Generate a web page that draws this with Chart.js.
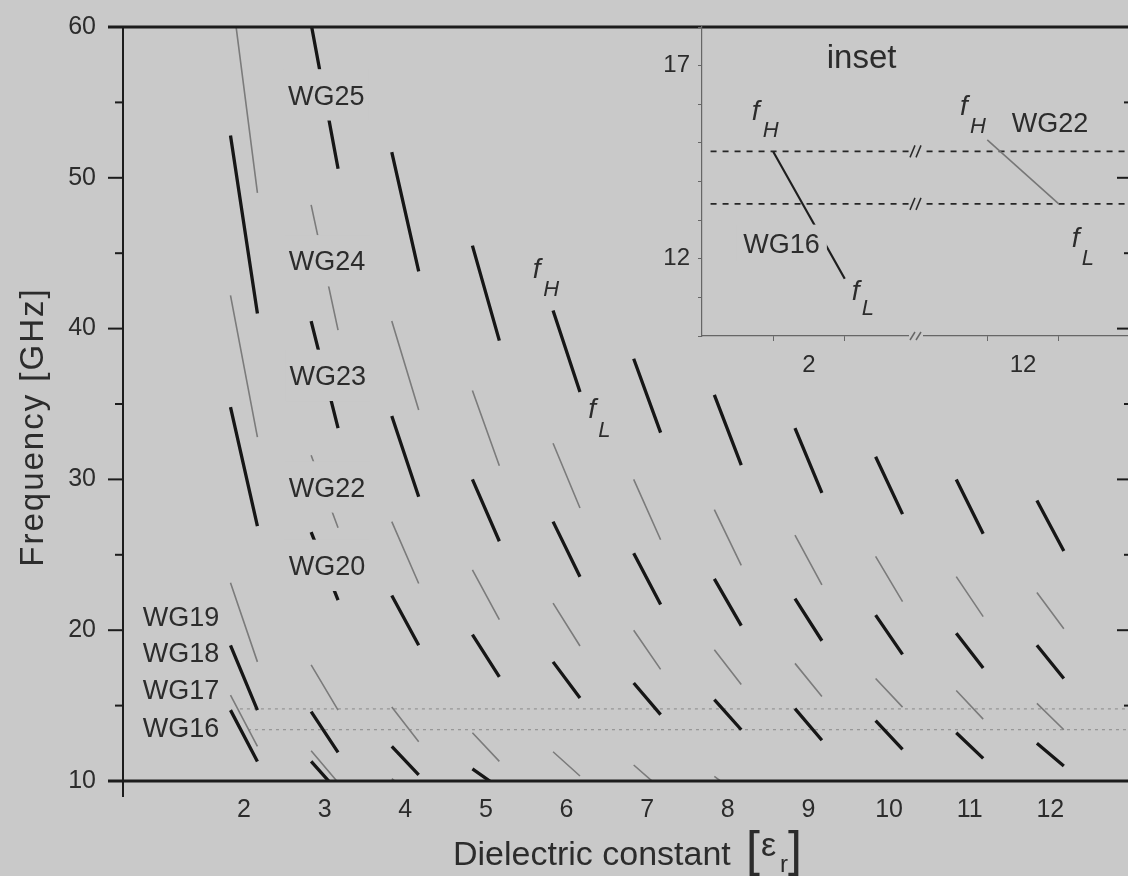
<!DOCTYPE html>
<html>
<head>
<meta charset="utf-8">
<script src="https://cdn.jsdelivr.net/npm/chart.js@4.4.1/dist/chart.umd.min.js"></script>
<style>
  html, body { margin: 0; padding: 0; background: #c9c9c9; overflow: hidden; }
  #wrap { position: relative; width: 1128px; height: 876px; overflow: hidden; }
  #main { position: absolute; left: 0; top: 0; }
  #inset { position: absolute; left: 600px; top: 0; }
</style>
</head>
<body>
<div id="wrap">
  <canvas id="main" width="1140" height="876"></canvas>
  <canvas id="inset" width="540" height="400"></canvas>
</div>
<script>
// x tick labels (dielectric constant)
const epsTicks = [2, 3, 4, 5, 6, 7, 8, 9, 10, 11, 12];

// thick black bands: dielectric constant, f_H and f_L [GHz]
const blackEps  = [2, 2, 2, 2,  3, 3, 3, 3, 3,  4, 4, 4, 4,  5, 5, 5, 5,  6, 6, 6,  7, 7, 7,  8, 8, 8,  9, 9, 9,  10, 10, 10,  11, 11, 11,  12, 12, 12];
const blackHigh = [52.8, 34.8, 19.0, 14.7,  60.2, 40.5, 26.5, 14.6, 11.3,  51.7, 34.2, 22.3, 12.3,  45.5, 30.0, 19.7, 10.8,  41.2, 27.2, 17.9,  38.0, 25.1, 16.5,  35.6, 23.4, 15.4,  33.4, 22.1, 14.8,  31.5, 21.0, 14.0,  30.0, 19.8, 13.2,  28.6, 19.0, 12.5];
const blackLow  = [41.0, 26.9, 14.7, 11.3,  50.6, 33.4, 22.0, 11.9, 9.3,  43.8, 28.85, 19.0, 10.4,  39.2, 25.9, 16.9, 9.55,  35.8, 23.55, 15.5,  33.1, 21.7, 14.4,  30.95, 20.3, 13.4,  29.1, 19.3, 12.7,  27.7, 18.4, 12.1,  26.4, 17.5, 11.5,  25.25, 16.8, 11.0];

// thin grey bands
const grayEps  = [2, 2, 2, 2,  3, 3, 3, 3,  4, 4, 4, 4,  5, 5, 5,  6, 6, 6,  7, 7, 7,  8, 8, 8,  9, 9,  10, 10,  11, 11,  12, 12];
const grayHigh = [62.9, 42.2, 23.15, 15.7,  48.2, 31.6, 17.7, 12.0,  40.5, 27.2, 14.9, 10.15,  35.9, 24.0, 13.2,  32.4, 21.8, 11.94,  30.0, 20.0, 11.06,  28.0, 18.7, 10.3,  26.3, 17.8,  24.9, 16.8,  23.55, 16.0,  22.5, 15.15];
const grayLow  = [49.0, 32.8, 17.9, 12.3,  39.9, 26.8, 14.7, 9.9,  34.6, 23.1, 12.6, 8.8,  30.9, 20.7, 11.3,  28.1, 18.95, 10.33,  26.0, 17.4, 9.5,  24.3, 16.4, 9.0,  23.0, 15.6,  21.9, 14.9,  20.9, 14.1,  20.1, 13.4];

// dotted target band
const bandFreq = [14.78, 13.4];
const bandStartEps = [1.95, 2.05];

// inset
const insetBlackEps = [2],  insetBlackHigh = [14.77], insetBlackLow = [11.48];
const insetGrayEps  = [12], insetGrayHigh  = [15.08], insetGrayLow  = [13.42];
const insetBand = [14.78, 13.42];
const insetTickEps = [2, 12];
const insetYLabels = [12, 17];

const HALF = 0.167;        // half width of a band mark along x
const XMIN = 0.5, XMAX = 13;
const BG = '#c9c9c9';
const TXT = '#2c2c2c';
const FONT = '"Liberation Sans", Arial, Helvetica, sans-serif';

function segData(eps, hi, lo, map) {
  const pts = [];
  eps.forEach((e, i) => {
    const c = map ? map(e) : e;
    pts.push({ x: c - HALF, y: hi[i] }, { x: c + HALF, y: lo[i] }, { x: c + HALF, y: null });
  });
  return pts;
}

function line(ctx, x1, y1, x2, y2) {
  ctx.beginPath(); ctx.moveTo(x1, y1); ctx.lineTo(x2, y2); ctx.stroke();
}

function boxLabel(ctx, text, px, py, size, padX, padY) {
  ctx.font = size + 'px ' + FONT;
  const w = ctx.measureText(text).width;
  const capH = size * 0.716;
  if (padY !== null) {
    ctx.fillStyle = BG;
    ctx.fillRect(px - w / 2 - padX, py - capH / 2 - padY, w + 2 * padX, capH + 2 * padY);
  }
  ctx.fillStyle = TXT;
  ctx.textAlign = 'center';
  ctx.textBaseline = 'alphabetic';
  ctx.fillText(text, px, py + capH / 2);
}

function fLabel(ctx, sub, px, py, dx, dy) {
  ctx.fillStyle = TXT;
  ctx.textAlign = 'left';
  ctx.textBaseline = 'alphabetic';
  ctx.font = 'italic 28px ' + FONT;
  ctx.fillText('f', px, py);
  ctx.font = 'italic 22px ' + FONT;
  ctx.fillText(sub, px + dx, py + dy);
}

// labels placed in data coordinates
const columnLabels = [
  { text: 'WG25', eps: 3.02, f: 55.5 },
  { text: 'WG24', eps: 3.03, f: 44.5 },
  { text: 'WG23', eps: 3.04, f: 36.9 },
  { text: 'WG22', eps: 3.03, f: 29.5 },
  { text: 'WG20', eps: 3.03, f: 24.3 }
];
const sideLabels = [
  { text: 'WG19', eps: 1.22, f: 20.95 },
  { text: 'WG18', eps: 1.22, f: 18.5 },
  { text: 'WG17', eps: 1.22, f: 16.05 },
  { text: 'WG16', eps: 1.22, f: 13.55 }
];

const mainDecor = {
  id: 'mainDecor',
  afterDatasetsDraw(chart) {
    const { ctx, chartArea: a, scales: { x, y } } = chart;
    ctx.save();

    columnLabels.forEach(l => boxLabel(ctx, l.text, x.getPixelForValue(l.eps), y.getPixelForValue(l.f), 27, 4, 16));
    sideLabels.forEach(l => boxLabel(ctx, l.text, x.getPixelForValue(l.eps), y.getPixelForValue(l.f), 27, 0, null));

    fLabel(ctx, 'H', x.getPixelForValue(5.58), y.getPixelForValue(43.36), 10.5, 18.5);
    fLabel(ctx, 'L', x.getPixelForValue(6.27), y.getPixelForValue(34.07), 10, 18.5);

    // frame
    ctx.strokeStyle = '#1c1c1c';
    ctx.lineWidth = 3;
    line(ctx, 108, a.top, a.right, a.top);
    line(ctx, 108, a.bottom, a.right, a.bottom);
    ctx.lineWidth = 2;
    line(ctx, a.left, a.top, a.left, a.bottom + 16);
    y.ticks.forEach(t => {
      const py = y.getPixelForValue(t.value);
      const major = t.value % 10 === 0;
      line(ctx, a.left - (major ? 15 : 8), py, a.left, py);
      line(ctx, a.right, py, a.right - (major ? 14 : 7), py);
    });

    // axis titles
    ctx.fillStyle = TXT;
    ctx.textBaseline = 'alphabetic';
    ctx.save();
    ctx.translate(43, 427);
    ctx.rotate(-Math.PI / 2);
    ctx.font = '33px ' + FONT;
    ctx.textAlign = 'center';
    if ('letterSpacing' in ctx) ctx.letterSpacing = '2px';
    ctx.fillText('Frequency [GHz]', 0, 0);
    ctx.restore();

    ctx.textAlign = 'left';
    ctx.font = '34px ' + FONT;
    ctx.fillText('Dielectric constant', 453, 865);
    ctx.font = '50px ' + FONT;
    ctx.fillText('[', 746, 866);
    ctx.fillText(']', 788, 866);
    ctx.font = '34px ' + FONT;
    ctx.fillText('\u03b5', 761, 856);
    ctx.font = '24px ' + FONT;
    ctx.fillText('r', 780, 872);
    ctx.restore();
  }
};

new Chart(document.getElementById('main'), {
  type: 'scatter',
  data: {
    datasets: [
      { data: segData(blackEps, blackHigh, blackLow), showLine: true, borderColor: '#161616', borderWidth: 3.3, pointRadius: 0, borderCapStyle: 'butt' },
      { data: segData(grayEps, grayHigh, grayLow), showLine: true, borderColor: '#7b7b7b', borderWidth: 1.6, pointRadius: 0 },
      { data: bandFreq.flatMap((f, i) => [{ x: bandStartEps[i], y: f }, { x: XMAX, y: f }, { x: XMAX, y: null }]),
        showLine: true, borderColor: '#8a8a8a', borderWidth: 1, borderDash: [3, 4], pointRadius: 0 }
    ]
  },
  options: {
    responsive: false,
    animation: false,
    devicePixelRatio: 1,
    layout: { padding: { top: 27, right: 9, left: 0, bottom: 0 } },
    plugins: { legend: { display: false }, tooltip: { enabled: false } },
    scales: {
      x: {
        type: 'linear', min: XMIN, max: XMAX,
        afterBuildTicks: s => { s.ticks = epsTicks.map(v => ({ value: v })); },
        afterFit: s => { s.height = 95; },
        grid: { display: false, drawTicks: false },
        border: { display: false },
        ticks: { font: { family: FONT, size: 25 }, color: TXT, padding: 14, maxRotation: 0, autoSkip: false }
      },
      y: {
        type: 'linear', min: 10, max: 60,
        afterFit: s => { s.width = 123; },
        grid: { display: false, drawTicks: true, tickLength: 15 },
        border: { display: false },
        ticks: { stepSize: 5, autoSkip: false, callback: v => (v % 10 === 0 ? v : ''), font: { family: FONT, size: 25 }, color: TXT, padding: 12 }
      }
    }
  },
  plugins: [mainDecor]
});

// ---- inset: broken x axis (2 | 12) ----
const uOf = e => (e > 2.5 ? e - 9 : e);

const insetDecor = {
  id: 'insetDecor',
  afterDatasetsDraw(chart) {
    const { ctx, chartArea: a, scales: { x, y } } = chart;
    ctx.save();
    ctx.fillStyle = TXT;
    ctx.font = '33px ' + FONT;
    ctx.textAlign = 'center';
    ctx.fillText('inset', x.getPixelForValue(2.246), y.getPixelForValue(16.95));

    boxLabel(ctx, 'WG16', x.getPixelForValue(1.872), y.getPixelForValue(12.4), 27, 7, 9);
    boxLabel(ctx, 'WG22', x.getPixelForValue(3.126), y.getPixelForValue(15.53), 27, 0, null);

    fLabel(ctx, 'H', x.getPixelForValue(1.732), y.getPixelForValue(15.58), 11, 17);
    fLabel(ctx, 'L', x.getPixelForValue(2.2), y.getPixelForValue(10.92), 10, 15);
    fLabel(ctx, 'H', x.getPixelForValue(2.706), y.getPixelForValue(15.71), 10, 18);
    fLabel(ctx, 'L', x.getPixelForValue(3.228), y.getPixelForValue(12.3), 10, 18);

    // axis break marks
    const bx = x.getPixelForValue(2.5);
    const marks = insetBand.map(f => y.getPixelForValue(f)).concat([a.bottom]);
    marks.forEach((py, i) => {
      ctx.fillStyle = BG;
      ctx.fillRect(bx - 7, py - 3, 14, 6);
      ctx.strokeStyle = i < 2 ? '#2a2a2a' : '#666';
      ctx.lineWidth = 1.5;
      const h = i < 2 ? 6 : 4;
      line(ctx, bx - 6, py + h, bx - 1, py - h);
      line(ctx, bx, py + h, bx + 5, py - h);
    });
    ctx.restore();
  }
};

new Chart(document.getElementById('inset'), {
  type: 'scatter',
  data: {
    datasets: [
      { data: segData(insetBlackEps, insetBlackHigh, insetBlackLow, uOf), showLine: true, borderColor: '#1e1e1e', borderWidth: 2.2, pointRadius: 0 },
      { data: segData(insetGrayEps, insetGrayHigh, insetGrayLow, uOf), showLine: true, borderColor: '#777', borderWidth: 1.6, pointRadius: 0 },
      { data: insetBand.flatMap(f => [{ x: 1.54, y: f }, { x: 3.5, y: f }, { x: 3.5, y: null }]),
        showLine: true, borderColor: '#262626', borderWidth: 1.8, borderDash: [6, 6], pointRadius: 0 }
    ]
  },
  options: {
    responsive: false,
    animation: false,
    devicePixelRatio: 1,
    layout: { padding: { top: 27, right: 10, left: 0, bottom: 0 } },
    plugins: { legend: { display: false }, tooltip: { enabled: false } },
    scales: {
      x: {
        type: 'linear', min: 1.5, max: 3.5,
        afterBuildTicks: s => {
          s.ticks = insetTickEps.flatMap(e => [uOf(e) - HALF, uOf(e), uOf(e) + HALF]).map(v => ({ value: v }));
        },
        afterFit: s => { s.height = 64; },
        grid: { display: true, drawOnChartArea: false, tickLength: 5,
                tickColor: c => (insetTickEps.map(uOf).includes(c.tick && c.tick.value) ? 'transparent' : '#666') },
        border: { display: true, color: '#666', width: 1.2 },
        ticks: {
          autoSkip: false, maxRotation: 0, padding: 10, color: TXT, font: { family: FONT, size: 24 },
          callback: v => { const i = insetTickEps.map(uOf).indexOf(v); return i >= 0 ? String(insetTickEps[i]) : ''; }
        }
      },
      y: {
        type: 'linear', min: 10, max: 18,
        afterFit: s => { s.width = 102; },
        grid: { display: true, drawOnChartArea: false, tickLength: 4, tickColor: '#666' },
        border: { display: true, color: '#666', width: 1.2 },
        ticks: { stepSize: 1, autoSkip: false, padding: 8, color: TXT, font: { family: FONT, size: 24 },
                 callback: v => (insetYLabels.includes(v) ? v : '') }
      }
    }
  },
  plugins: [insetDecor]
});
</script>
</body>
</html>
